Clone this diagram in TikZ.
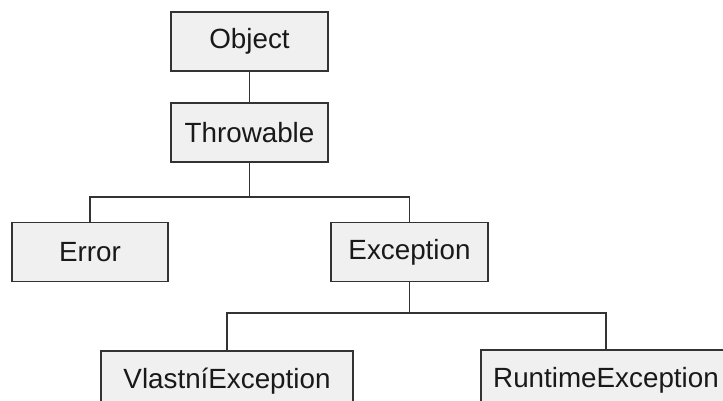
\documentclass[tikz,border=0pt]{standalone}
\usepackage{fontspec}
\setmainfont{Liberation Sans}
\begin{document}
\begin{tikzpicture}[x=1pt,y=-1pt,
  cls/.style={draw=black!80, line width=1.6pt, fill=black!6, text=black!90,
    font=\fontsize{27.8}{32}\selectfont, inner sep=0pt,
    minimum height=59pt},
  link/.style={draw=black!80, line width=1.4pt}]
\useasboundingbox (0,0) rectangle (723,400);
\clip (0,0) rectangle (723,400);
% class boxes
\node[cls, minimum width=157pt] (obj) at (249.5,41.5) {Object};
\node[cls, minimum width=157pt] (thr) at (249.5,132.5) {Throwable};
\node[cls, minimum width=156pt] (err) at (90,252) {Error};
\node[cls, minimum width=157pt] (exc) at (409.5,252) {Exception};
\node[cls, minimum width=252pt, minimum height=60pt] (vla) at (227,381) {VlastníException};
\node[cls, minimum width=250pt, minimum height=60pt] (run) at (606,380) {RuntimeException};
% junction points of the tree
\coordinate (j1) at (249.5,197);
\coordinate (j2) at (409.5,313);
% connectors
\draw[link] (obj.south) -- (thr.north);
\draw[link] (thr.south) -- (j1);
\draw[link] (err.north) |- (j1) -| (exc.north);
\draw[link] (exc.south) -- (j2);
\draw[link] (vla.north) |- (j2) -| (run.north);
\end{tikzpicture}
\end{document}
